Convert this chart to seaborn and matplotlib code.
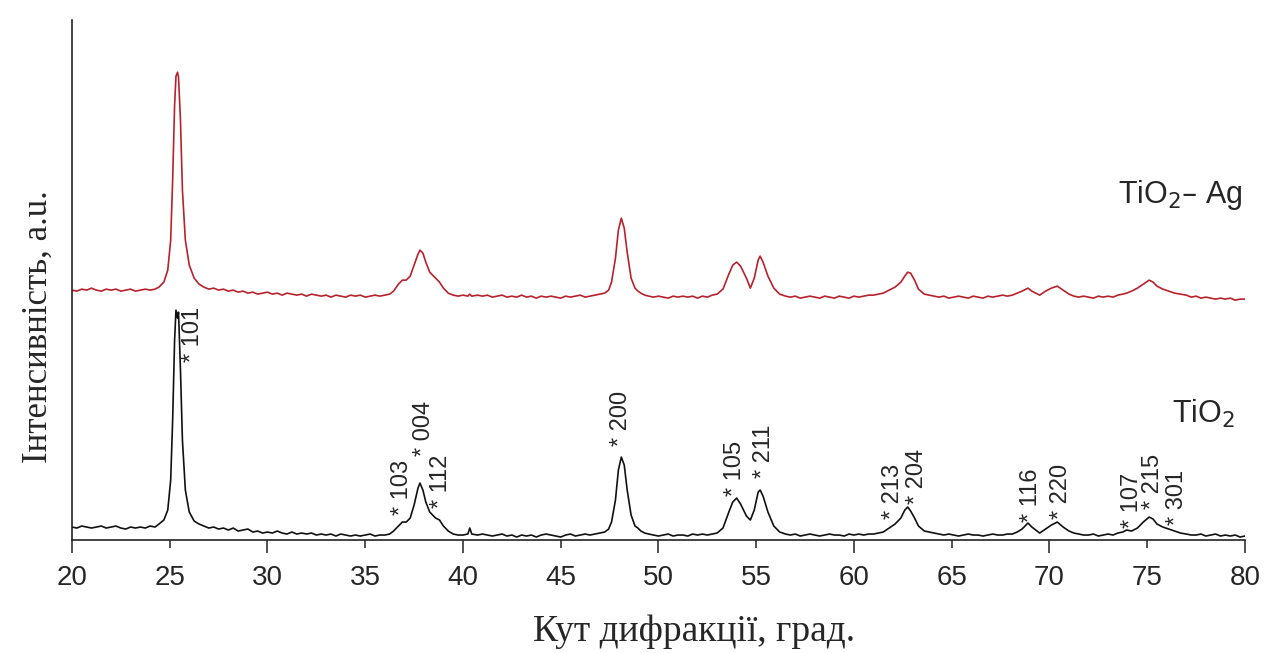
import matplotlib
matplotlib.use("Agg")
import matplotlib.pyplot as plt
import pandas as pd
import seaborn as sns

# 2-theta grid (deg), shared by both patterns
ANGLE = [20.0, 20.25, 20.5, 20.75, 21.0, 21.25, 21.5, 21.75, 22.0, 22.25,
         22.5, 22.75, 23.0, 23.25, 23.5, 23.75, 24.0, 24.25, 24.45, 24.7,
         24.9, 25.05, 25.15, 25.25, 25.32, 25.4, 25.45, 25.55, 25.65, 25.8,
         26.0, 26.25, 26.5, 26.75, 27.0, 27.25, 27.5, 27.75, 28.0, 28.25,
         28.5, 28.75, 29.0, 29.25, 29.5, 29.75, 30.0, 30.25, 30.5, 30.75,
         31.0, 31.25, 31.5, 31.75, 32.0, 32.25, 32.5, 32.75, 33.0, 33.25,
         33.5, 33.75, 34.0, 34.25, 34.5, 34.75, 35.0, 35.25, 35.5, 35.75,
         36.0, 36.25, 36.45, 36.7, 36.9, 37.1, 37.3, 37.5, 37.7, 37.8,
         37.95, 38.1, 38.3, 38.6, 38.8, 39.0, 39.25, 39.5, 39.75, 40.0,
         40.25, 40.35, 40.45, 40.75, 41.0, 41.25, 41.5, 41.75, 42.0, 42.25,
         42.5, 42.75, 43.0, 43.25, 43.5, 43.75, 44.0, 44.25, 44.5, 44.75,
         45.0, 45.25, 45.5, 45.75, 46.0, 46.25, 46.5, 46.75, 47.0, 47.25,
         47.45, 47.6, 47.8, 47.95, 48.1, 48.25, 48.4, 48.6, 48.8, 48.95,
         49.1, 49.3, 49.5, 49.75, 50.0, 50.25, 50.5, 50.75, 51.0, 51.25,
         51.5, 51.75, 52.0, 52.25, 52.5, 52.75, 53.0, 53.3, 53.6, 53.8,
         54.0, 54.2, 54.5, 54.7, 54.9, 55.1, 55.2, 55.35, 55.6, 55.9,
         56.2, 56.5, 56.75, 57.0, 57.25, 57.5, 57.75, 58.0, 58.25, 58.5,
         58.75, 59.0, 59.25, 59.5, 59.75, 60.0, 60.25, 60.5, 60.75, 61.0,
         61.25, 61.5, 61.8, 62.1, 62.4, 62.6, 62.75, 62.9, 63.1, 63.3,
         63.6, 63.85, 64.1, 64.35, 64.6, 64.85, 65.1, 65.35, 65.6, 65.85,
         66.1, 66.35, 66.6, 66.85, 67.1, 67.35, 67.6, 67.85, 68.1, 68.35,
         68.6, 68.9, 69.1, 69.3, 69.5, 69.8, 70.1, 70.4, 70.7, 71.0,
         71.25, 71.5, 71.75, 72.0, 72.25, 72.5, 72.75, 73.0, 73.25, 73.5,
         73.75, 73.95, 74.2, 74.5, 74.8, 75.1, 75.3, 75.5, 75.8, 76.1,
         76.4, 76.7, 77.0, 77.25, 77.5, 77.75, 78.0, 78.25, 78.5, 78.75,
         79.0, 79.25, 79.5, 79.75, 80.0]

# intensity (a.u.), bare TiO2
TIO2 = [13, 12, 14, 13, 12, 13, 14, 12, 13, 14,
        12, 11, 13, 12, 13, 12, 14, 13, 16, 20,
        30, 60, 120, 200, 230, 222, 228, 170, 100, 50,
        28, 19, 16, 14, 12, 13, 11, 12, 10, 12,
        9, 10, 11, 8, 9, 7, 8, 7, 9, 7,
        6, 8, 6, 7, 6, 7, 5, 6, 5, 6,
        4, 6, 5, 4, 5, 4, 5, 6, 4, 5,
        5, 6, 9, 14, 18, 18, 22, 35, 52, 57,
        50, 38, 28, 22, 20, 14, 9, 6, 5, 5,
        6, 12, 6, 5, 6, 5, 4, 5, 6, 4,
        5, 3, 5, 4, 5, 3, 5, 6, 5, 4,
        3, 5, 6, 4, 5, 6, 5, 6, 7, 8,
        11, 18, 40, 70, 83, 75, 50, 25, 14, 12,
        9, 7, 6, 5, 4, 5, 6, 4, 5, 5,
        4, 6, 5, 6, 5, 6, 7, 12, 28, 38,
        42, 36, 24, 20, 30, 48, 50, 44, 28, 14,
        8, 6, 5, 6, 4, 5, 6, 5, 4, 5,
        6, 5, 5, 4, 6, 5, 6, 5, 6, 6,
        7, 8, 12, 16, 22, 30, 33, 29, 22, 14,
        9, 8, 7, 6, 5, 6, 5, 4, 5, 6,
        5, 5, 4, 5, 6, 5, 5, 6, 6, 8,
        11, 17, 13, 10, 7, 11, 15, 18, 13, 9,
        7, 6, 5, 5, 6, 4, 5, 6, 5, 7,
        8, 10, 9, 12, 18, 23, 21, 16, 13, 11,
        9, 7, 6, 5, 5, 6, 4, 5, 6, 4,
        5, 4, 5, 3, 4]

# intensity (a.u.), TiO2-Ag, already offset upwards as in the figure
TIO2_AG = [250, 249, 251, 250, 252, 250, 249, 251, 250, 251,
           249, 250, 251, 249, 250, 251, 250, 251, 253, 258,
           270, 300, 360, 435, 464, 468, 463, 420, 350, 300,
           275, 262, 256, 253, 251, 252, 250, 251, 249, 250,
           248, 249, 247, 248, 246, 247, 248, 246, 247, 245,
           247, 246, 245, 246, 244, 246, 245, 244, 245, 243,
           245, 244, 243, 245, 244, 245, 243, 244, 245, 244,
           245, 246, 249, 256, 260, 260, 264, 275, 286, 290,
           287, 278, 268, 262, 258, 252, 247, 245, 244, 245,
           244, 246, 244, 245, 244, 245, 243, 244, 245, 243,
           244, 243, 245, 243, 244, 242, 244, 243, 244, 243,
           242, 244, 243, 244, 245, 243, 244, 245, 246, 247,
           250, 258, 282, 310, 322, 312, 288, 262, 252, 249,
           247, 245, 244, 243, 244, 243, 242, 244, 243, 244,
           243, 244, 242, 244, 243, 245, 246, 251, 266, 275,
           278, 274, 262, 252, 262, 280, 284, 278, 264, 252,
           246, 244, 243, 244, 242, 243, 244, 243, 242, 244,
           243, 242, 244, 243, 242, 244, 243, 244, 245, 245,
           246, 247, 250, 253, 258, 264, 268, 267, 260, 251,
           246, 245, 244, 243, 244, 242, 243, 244, 243, 242,
           244, 243, 242, 244, 243, 244, 245, 244, 245, 247,
           249, 252, 249, 247, 245, 249, 252, 254, 250, 246,
           244, 243, 244, 243, 242, 244, 243, 244, 243, 245,
           246, 247, 249, 252, 256, 260, 258, 254, 251, 249,
           247, 246, 245, 243, 244, 242, 243, 242, 241, 242,
           241, 242, 240, 241, 241]

# Miller indices: label, x position, height where the star sits
HKL_LABELS = ["101", "103", "004", "112", "200", "105", "211",
              "213", "204", "116", "220", "107", "215", "301"]
HKL_X = [26.2, 36.9, 38.0, 38.9, 48.1, 53.9, 55.4,
         62.0, 63.2, 69.05, 70.6, 74.2, 75.3, 76.5]
HKL_Y = [178, 25, 84, 32, 94, 44, 62,
         21, 36, 18, 21, 12, 31, 15]

sns.set_theme(style="ticks")
plt.rcParams["font.family"] = ["Liberation Sans", "DejaVu Sans"]

df = pd.concat([
    pd.DataFrame({"angle": ANGLE, "intensity": TIO2, "sample": "TiO2"}),
    pd.DataFrame({"angle": ANGLE, "intensity": TIO2_AG, "sample": "TiO2-Ag"}),
])

fig = plt.figure(figsize=(12.67, 6.53), dpi=100)
ax = fig.add_axes([0.0568, 0.173, 0.9258, 0.796])

sns.lineplot(data=df, x="angle", y="intensity", hue="sample",
             palette={"TiO2": "#111111", "TiO2-Ag": "#b8222c"},
             linewidth=1.2, legend=False, ax=ax, sort=False)

ax.set_xlim(20, 80)
ax.set_ylim(0, 520)
ax.set_yticks([])
ax.set_xticks(range(20, 81, 10))
ax.set_xticks(range(25, 80, 10), labels=[str(v) for v in range(25, 80, 10)], minor=True)
ax.tick_params(axis="x", which="major", length=9.5, width=1.1, pad=8.5, labelsize=20, color="#222222")
ax.tick_params(axis="x", which="minor", length=6, width=1.1, pad=12, labelsize=20, color="#222222")
for s in ("top", "right"):
    ax.spines[s].set_visible(False)
for s in ("left", "bottom"):
    ax.spines[s].set_linewidth(1.2)
    ax.spines[s].set_color("#222222")
ax.set_xlabel("")
ax.set_ylabel("")

for lab, x, y in zip(HKL_LABELS, HKL_X, HKL_Y):
    ax.text(x, y, "* " + lab, rotation=90, ha="center", va="bottom", fontsize=17)

ax.text(76.27, 117, "TiO$_2$", fontsize=22, ha="left", va="baseline")
ax.text(73.5, 337, "TiO$_2$– Ag", fontsize=22, ha="left", va="baseline", clip_on=False)

fig.text(0.548, 0.032, "Кут дифракції, град.", family="Liberation Serif",
         fontsize=27, ha="center", va="center")
fig.text(0.03, 0.5, "Інтенсивність, a.u.", family="Liberation Serif",
         fontsize=25, ha="center", va="center", rotation=90)

fig.savefig("out.png", dpi=100)
